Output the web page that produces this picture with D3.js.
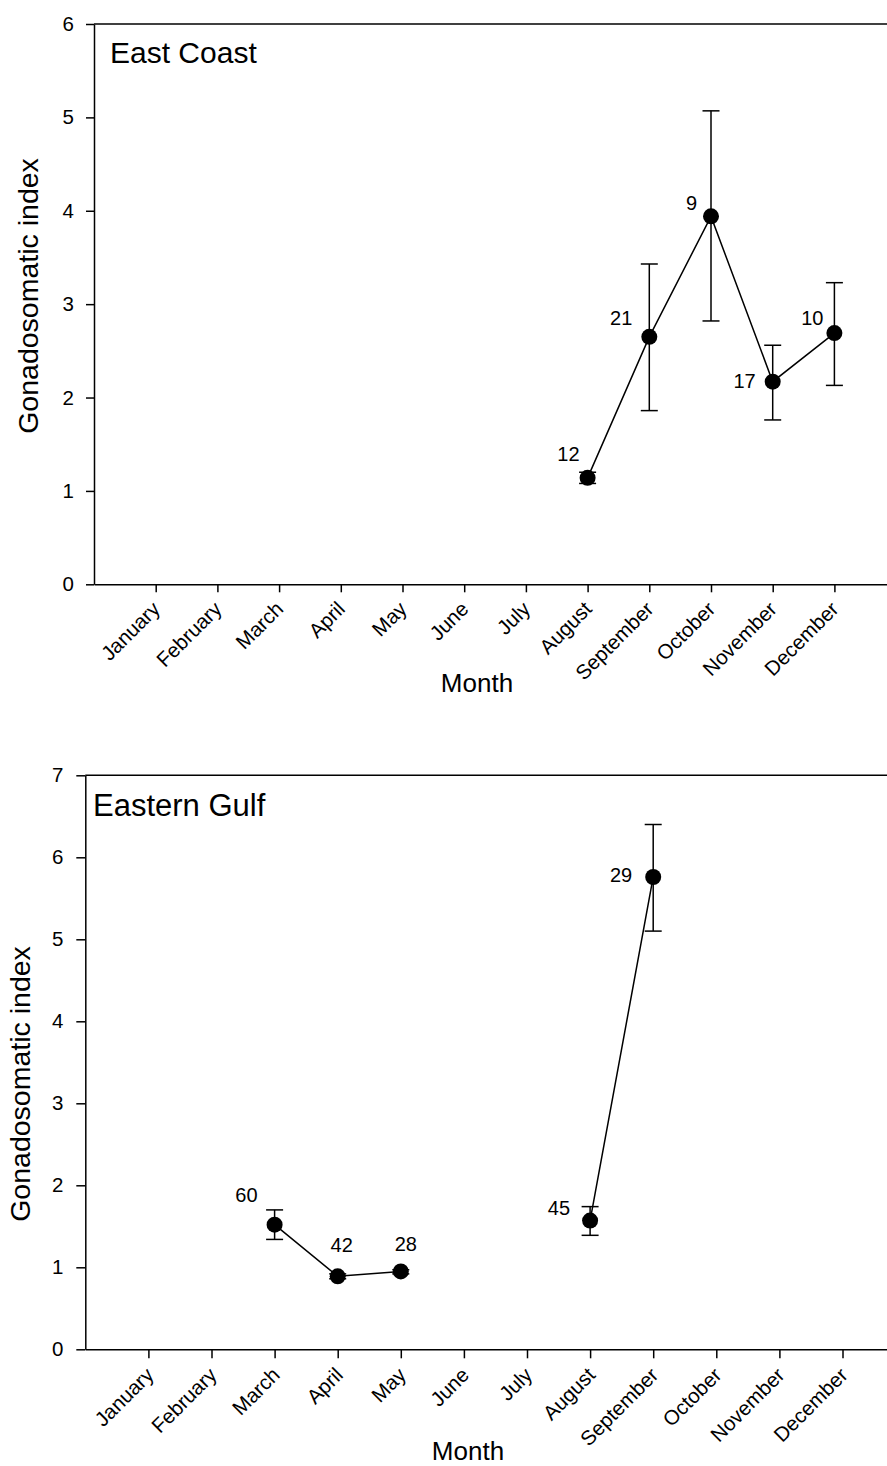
<!DOCTYPE html>
<html>
<head>
<meta charset="utf-8">
<script src="https://cdn.jsdelivr.net/npm/d3@7"></script>
<style>
  html, body { margin: 0; padding: 0; background: #fff; }
  svg { display: block; font-family: "Liberation Sans", Arial, sans-serif; }
  svg text { font-family: "Liberation Sans", Arial, sans-serif; }
</style>
</head>
<body>
<svg id="chart" width="887" height="1466"></svg>
<script>
// ---------- data ----------
const months = ["January","February","March","April","May","June","July","August","September","October","November","December"];

const eastCoastMean  = [null,null,null,null,null,null,null,1.14,2.65,3.94,2.17,2.69];
const eastCoastUpper = [null,null,null,null,null,null,null,1.20,3.43,5.07,2.56,3.23];
const eastCoastLower = [null,null,null,null,null,null,null,1.08,1.86,2.82,1.76,2.13];
const eastCoastN     = [null,null,null,null,null,null,null,12,21,9,17,10];
const eastCoastYTicks = [0,1,2,3,4,5,6];

const gulfMean  = [null,null,1.52,0.89,0.95,null,null,1.57,5.76,null,null,null];
const gulfUpper = [null,null,1.70,0.92,0.97,null,null,1.74,6.40,null,null,null];
const gulfLower = [null,null,1.34,0.86,0.92,null,null,1.39,5.10,null,null,null];
const gulfN     = [null,null,60,42,28,null,null,45,29,null,null,null];
const gulfYTicks = [0,1,2,3,4,5,6,7];

// label placement (layout, not data): [dx, dy, anchor]
const eastCoastLabelPos = {8:[-8,-17,"end"],9:[-17,-12,"end"],10:[-14,-6,"end"],11:[-17,6,"end"],12:[-11,-8,"end"]};
const gulfLabelPos = {3:[-17,-23,"end"],4:[4,-24,"middle"],5:[5,-20,"middle"],8:[-20,-6,"end"],9:[-21,5,"end"]};

const svg = d3.select("#chart");
const W = 887;

function drawPanel(cfg) {
  const x = d3.scaleLinear().domain([0, 13]).range([cfg.left, cfg.left + 13 * cfg.step]);
  const y = d3.scaleLinear().domain([0, cfg.yMax]).range([cfg.bottom, cfg.top]);
  const g = svg.append("g");

  const pts = months.map((m, i) => ({
    month: i + 1, mean: cfg.mean[i], up: cfg.upper[i], lo: cfg.lower[i], n: cfg.n[i]
  }));
  const valid = pts.filter(d => d.mean != null);

  // top frame line
  g.append("line")
    .attr("x1", cfg.left).attr("x2", W)
    .attr("y1", y(cfg.yMax)).attr("y2", y(cfg.yMax))
    .attr("stroke", "#000").attr("stroke-width", 1.5);

  // y axis
  const ya = g.append("g").attr("transform", `translate(${cfg.left},0)`)
    .call(d3.axisLeft(y).tickValues(cfg.yTicks).tickFormat(d3.format("d"))
      .tickSize(cfg.tick).tickSizeOuter(0).tickPadding(cfg.ypad));
  // x axis
  const xa = g.append("g").attr("transform", `translate(0,${cfg.bottom})`)
    .call(d3.axisBottom(x).tickValues(d3.range(1, 13)).tickFormat(i => months[i - 1])
      .tickSize(cfg.tick).tickSizeOuter(0));
  xa.selectAll("text")
    .attr("x", 0).attr("y", 0).attr("dy", 0)
    .attr("text-anchor", "end")
    .attr("transform", `translate(${cfg.xlabDx},${cfg.xlabOff}) rotate(-45)`);

  [ya, xa].forEach(a => {
    a.attr("font-size", cfg.tickFont).attr("font-family", '"Liberation Sans", Arial, sans-serif');
    a.select(".domain").attr("stroke", "#000").attr("stroke-width", 1.5);
    a.selectAll(".tick line").attr("stroke", "#000").attr("stroke-width", 1.5);
    a.selectAll("text").attr("fill", "#000").attr("font-size", cfg.tickFont)
      .style("font-size", cfg.tickFont + "px");
  });

  // error bars
  const eb = g.append("g").attr("stroke", "#000").attr("stroke-width", 1.5);
  valid.forEach(d => {
    eb.append("line").attr("x1", x(d.month)).attr("x2", x(d.month)).attr("y1", y(d.up)).attr("y2", y(d.lo));
    [d.up, d.lo].forEach(v => {
      eb.append("line").attr("x1", x(d.month) - 8.5).attr("x2", x(d.month) + 8.5).attr("y1", y(v)).attr("y2", y(v));
    });
  });

  // line
  g.append("path")
    .datum(pts)
    .attr("fill", "none").attr("stroke", "#000").attr("stroke-width", 1.5)
    .attr("d", d3.line().defined(d => d.mean != null).x(d => x(d.month)).y(d => y(d.mean)));

  // dots
  g.selectAll("circle.pt").data(valid).join("circle")
    .attr("cx", d => x(d.month)).attr("cy", d => y(d.mean)).attr("r", 8).attr("fill", "#000");

  // n labels
  g.selectAll("text.n").data(valid).join("text")
    .attr("class", "n")
    .attr("x", d => x(d.month) + cfg.labelPos[d.month][0])
    .attr("y", d => y(d.mean) + cfg.labelPos[d.month][1])
    .attr("text-anchor", d => cfg.labelPos[d.month][2])
    .style("font-size", "20px").attr("fill", "#000")
    .text(d => d.n);

  // title
  g.append("text").attr("x", cfg.titleX).attr("y", cfg.titleY)
    .style("font-size", cfg.titleFont + "px").attr("fill", "#000").text(cfg.title);

  // axis titles
  g.append("text").attr("x", cfg.monthX).attr("y", cfg.monthY)
    .attr("text-anchor", "middle").style("font-size", "26px").attr("fill", "#000").text("Month");
  g.append("text")
    .attr("transform", `translate(${cfg.ylabX},${cfg.ylabY}) rotate(-90)`)
    .attr("text-anchor", "middle").style("font-size", "28.5px").attr("fill", "#000")
    .text("Gonadosomatic index");
}

drawPanel({
  left: 94, step: 61.7, top: 24, bottom: 584.3, yMax: 6, yTicks: eastCoastYTicks,
  tick: 8, ypad: 12, xlabDx: 5, xlabOff: 26, tickFont: 20.5,
  mean: eastCoastMean, upper: eastCoastUpper, lower: eastCoastLower, n: eastCoastN,
  labelPos: eastCoastLabelPos,
  title: "East Coast", titleX: 110, titleY: 63, titleFont: 30,
  monthX: 477, monthY: 692, ylabX: 38, ylabY: 296
});

drawPanel({
  left: 85.3, step: 63.1, top: 775.3, bottom: 1349.3, yMax: 7, yTicks: gulfYTicks,
  tick: 9, ypad: 13, xlabDx: 6, xlabOff: 27, tickFont: 20.5,
  mean: gulfMean, upper: gulfUpper, lower: gulfLower, n: gulfN,
  labelPos: gulfLabelPos,
  title: "Eastern Gulf", titleX: 93, titleY: 816, titleFont: 31,
  monthX: 468, monthY: 1460, ylabX: 30, ylabY: 1084
});
</script>
</body>
</html>
